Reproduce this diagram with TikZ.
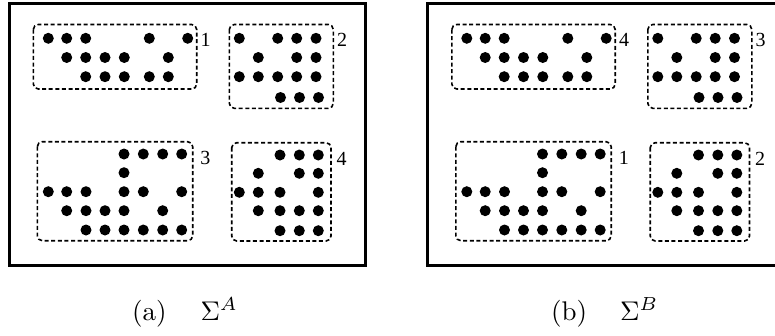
\documentclass[tikz,border=0pt]{standalone}
\usepackage{fontspec}
\newfontfamily\lblfont{Liberation Serif}
\tikzset{
  frame/.style={line width=3.2pt},
  group/.style={line width=1.6pt, dash pattern=on 4pt off 2.6pt, rounded corners=5pt},
  dot/.style={fill=black},
  lbl/.style={inner sep=0pt, font=\lblfont, scale=2.0, transform shape},
  captxt/.style={inner sep=0pt, anchor=base west, scale=2.7, transform shape},
}
\newcommand{\dotrow}[2]{\foreach \xx in {#2} {\fill[dot] (\xx,#1) circle (5.5pt);}}
\newcommand{\panel}[6]{%
  \begin{scope}[xshift=#1]
    \draw[frame] (9.3,3.5) rectangle (365.7,265.5);
    % group 1
    \draw[group] (33.3,24.5) rectangle (196.7,89);
    \dotrow{38.3}{48.3,66.7,85.7,149.3,187.7}
    \dotrow{57.5}{66.7,85.7,105,124.3,168.3}
    \dotrow{76.7}{85.7,105,124.3,149.3,168.3}
    \node[lbl] (#6a) at (205.5,39.5) {#2};
    % group 2
    \draw[group] (229.3,24.5) rectangle (333.3,108.3);
    \dotrow{38.3}{239.3,277.7,296.7,316}
    \dotrow{57.5}{258.3,296.7,316}
    \dotrow{76.7}{239.3,258.3,277.7,296.7,316}
    \dotrow{97.5}{280.5,299.5,318.5}
    \node[lbl] (#6b) at (342,39.5) {#3};
    % group 3
    \draw[group] (37.3,141.7) rectangle (192.7,240.7);
    \dotrow{154}{124,143.3,162.7,181.7}
    \dotrow{172.7}{124}
    \dotrow{191.7}{48.3,66.7,86,124,143.3,181.7}
    \dotrow{210.7}{66.7,86,105,124,162.7}
    \dotrow{230}{86,105,124,143.3,162.7,181.7}
    \node[lbl] (#6c) at (205.3,158.3) {#4};
    % group 4
    \draw[group] (231.7,142.7) rectangle (331,241);
    \dotrow{155}{280,299.3,318.3}
    \dotrow{173.3}{258.3,299.3,318.3}
    \dotrow{192.3}{239.3,258.3,280,318.3}
    \dotrow{210.7}{258.3,280,299.3,318.3}
    \dotrow{230.7}{280,299.3,318.3}
    \node[lbl] (#6d) at (341.7,158.7) {#5};
  \end{scope}}
\begin{document}
\begin{tikzpicture}[x=1pt,y=-1pt]
  \useasboundingbox (0,0) rectangle (775,335);
  \clip (0,0) rectangle (775,335);
  \panel{0}{1}{2}{3}{4}{pa}
  \panel{418.5}{4}{3}{1}{2}{pb}
  \node[captxt] (capa) at (131.5,320) {(a)};
  \node[captxt] (siga) at (200,320) {$\Sigma^A$};
  \node[captxt] (capb) at (550.5,320) {(b)};
  \node[captxt] (sigb) at (619.5,320) {$\Sigma^B$};
\end{tikzpicture}
\end{document}
